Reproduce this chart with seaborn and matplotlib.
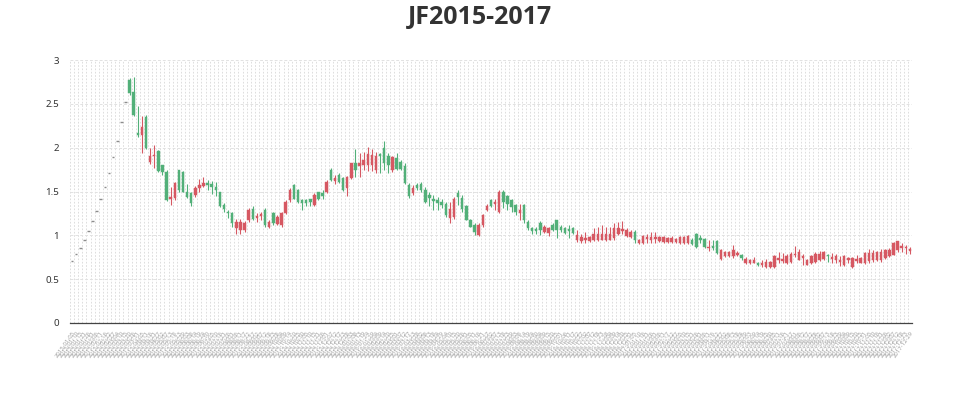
import numpy as np
import pandas as pd
import matplotlib
matplotlib.use("Agg")
import matplotlib.pyplot as plt
import seaborn as sns

# candle values (index 0-13 are flat limit-up days)
opens = [
    0.71, 0.79, 0.86, 0.95, 1.05, 1.16, 1.28, 1.41, 1.55, 1.71, 1.89, 2.08, 2.29, 2.52,
    2.77, 2.63, 2.17, 2.14, 2.35, 1.84, 1.90, 1.96, 1.80, 1.72,
    1.42, 1.43, 1.74, 1.72, 1.49, 1.48, 1.46, 1.54, 1.56, 1.60,
    1.58, 1.55, 1.49, 1.35, 1.27, 1.25,
    1.08, 1.06, 1.06, 1.17, 1.30, 1.20, 1.22, 1.29, 1.09, 1.26,
    1.13, 1.12, 1.25, 1.40, 1.57, 1.52, 1.40, 1.40, 1.41, 1.35,
    1.49, 1.48, 1.49, 1.75, 1.62, 1.69, 1.65, 1.54, 1.65, 1.83,
    1.79, 1.80, 1.80, 1.80, 1.75, 1.93, 2.00, 1.90, 1.74, 1.88,
    1.84, 1.79, 1.57, 1.48, 1.57, 1.59, 1.52, 1.46, 1.42, 1.40,
    1.38, 1.36, 1.20, 1.21, 1.48, 1.43, 1.33, 1.17, 1.12, 1.00,
    1.12, 1.29, 1.40, 1.36, 1.27, 1.50, 1.45, 1.40, 1.35, 1.26,
    1.35, 1.15, 1.08, 1.07, 1.14, 1.04, 1.03, 1.12, 1.17, 1.10,
    1.08, 1.07, 1.08, 0.95, 0.93, 0.95, 0.94, 0.95, 0.95, 0.95,
    0.95, 0.95, 0.97, 1.02, 1.05, 0.99, 0.98, 1.04, 0.91, 0.91,
    0.96, 0.95, 0.96, 0.93, 0.92, 0.92, 0.92, 0.92, 0.91, 0.91,
    0.91, 0.95, 1.02, 0.97, 0.96, 0.85, 0.88, 0.93, 0.73, 0.76,
    0.76, 0.76, 0.78, 0.78, 0.68, 0.68, 0.69, 0.69, 0.66, 0.64,
    0.64, 0.64, 0.72, 0.71, 0.68, 0.70, 0.77, 0.72, 0.74, 0.66,
    0.68, 0.70, 0.72, 0.73, 0.78, 0.73, 0.72, 0.70, 0.66, 0.72,
    0.64, 0.71, 0.69, 0.68, 0.71, 0.72, 0.72, 0.72, 0.74, 0.76,
    0.78, 0.83, 0.86, 0.85, 0.82,
]
closes = [
    0.71, 0.79, 0.86, 0.95, 1.05, 1.16, 1.28, 1.41, 1.55, 1.71, 1.89, 2.08, 2.29, 2.52,
    2.62, 2.37, 2.15, 2.24, 2.00, 1.91, 1.92, 1.73, 1.72, 1.40,
    1.44, 1.60, 1.52, 1.50, 1.44, 1.37, 1.54, 1.57, 1.60, 1.57,
    1.55, 1.52, 1.33, 1.30, 1.25, 1.14,
    1.15, 1.15, 1.14, 1.29, 1.19, 1.22, 1.24, 1.12, 1.15, 1.14,
    1.21, 1.25, 1.38, 1.52, 1.42, 1.38, 1.37, 1.37, 1.38, 1.46,
    1.41, 1.45, 1.61, 1.63, 1.65, 1.61, 1.52, 1.67, 1.82, 1.75,
    1.82, 1.86, 1.93, 1.92, 1.90, 1.90, 1.82, 1.80, 1.89, 1.76,
    1.76, 1.60, 1.45, 1.54, 1.54, 1.52, 1.38, 1.43, 1.39, 1.37,
    1.35, 1.23, 1.30, 1.42, 1.44, 1.30, 1.18, 1.10, 1.04, 1.12,
    1.23, 1.34, 1.33, 1.38, 1.50, 1.38, 1.36, 1.32, 1.27, 1.29,
    1.18, 1.08, 1.05, 1.05, 1.06, 1.10, 1.08, 1.06, 1.06, 1.06,
    1.03, 1.05, 1.03, 1.00, 0.98, 0.97, 0.98, 1.01, 1.01, 1.01,
    1.01, 1.02, 1.08, 1.08, 1.07, 1.06, 1.04, 0.95, 0.95, 0.99,
    0.98, 0.98, 0.98, 0.98, 0.98, 0.97, 0.97, 0.96, 0.98, 0.98,
    0.99, 0.90, 0.87, 0.95, 0.87, 0.87, 0.86, 0.80, 0.83, 0.81,
    0.81, 0.83, 0.80, 0.74, 0.73, 0.72, 0.72, 0.66, 0.68, 0.70,
    0.70, 0.76, 0.74, 0.73, 0.76, 0.79, 0.79, 0.81, 0.76, 0.72,
    0.76, 0.79, 0.79, 0.81, 0.76, 0.75, 0.76, 0.72, 0.76, 0.74,
    0.74, 0.73, 0.74, 0.80, 0.80, 0.80, 0.81, 0.81, 0.83, 0.83,
    0.91, 0.93, 0.88, 0.87, 0.84,
]
highs = [
    0.71, 0.79, 0.86, 0.95, 1.05, 1.16, 1.28, 1.41, 1.55, 1.71, 1.89, 2.08, 2.29, 2.52,
    2.80, 2.81, 2.47, 2.36, 2.37, 2.00, 2.03, 1.97, 1.80, 1.74,
    1.55, 1.61, 1.75, 1.73, 1.58, 1.50, 1.56, 1.64, 1.66, 1.63,
    1.62, 1.61, 1.50, 1.37, 1.29, 1.27,
    1.19, 1.19, 1.16, 1.31, 1.33, 1.25, 1.27, 1.31, 1.17, 1.27,
    1.23, 1.27, 1.40, 1.54, 1.59, 1.53, 1.42, 1.42, 1.42, 1.48,
    1.50, 1.52, 1.63, 1.77, 1.69, 1.71, 1.66, 1.68, 1.83, 1.99,
    1.94, 1.95, 2.01, 1.99, 1.95, 1.94, 2.08, 1.94, 1.90, 1.94,
    1.86, 1.82, 1.60, 1.57, 1.60, 1.61, 1.55, 1.50, 1.46, 1.44,
    1.42, 1.38, 1.38, 1.44, 1.52, 1.46, 1.35, 1.19, 1.14, 1.14,
    1.24, 1.36, 1.42, 1.42, 1.52, 1.52, 1.46, 1.42, 1.36, 1.36,
    1.36, 1.17, 1.10, 1.09, 1.16, 1.12, 1.10, 1.14, 1.18, 1.12,
    1.10, 1.12, 1.10, 1.06, 1.01, 1.04, 0.99, 1.08, 1.09, 1.12,
    1.10, 1.10, 1.14, 1.15, 1.16, 1.08, 1.06, 1.06, 0.96, 1.00,
    1.02, 1.04, 1.04, 0.99, 0.99, 0.98, 0.99, 0.97, 0.99, 0.99,
    1.00, 0.97, 1.03, 1.00, 0.97, 0.95, 0.95, 0.95, 0.84, 0.82,
    0.82, 0.89, 0.82, 0.79, 0.75, 0.73, 0.75, 0.70, 0.72, 0.73,
    0.71, 0.78, 0.81, 0.80, 0.79, 0.81, 0.88, 0.84, 0.79, 0.73,
    0.77, 0.81, 0.82, 0.82, 0.79, 0.80, 0.79, 0.76, 0.77, 0.75,
    0.75, 0.77, 0.75, 0.81, 0.84, 0.83, 0.82, 0.84, 0.84, 0.86,
    0.92, 0.94, 0.91, 0.89, 0.87,
]
lows = [
    0.71, 0.79, 0.86, 0.95, 1.05, 1.16, 1.28, 1.41, 1.55, 1.71, 1.89, 2.08, 2.29, 2.52,
    2.60, 2.36, 2.12, 1.94, 1.99, 1.81, 1.77, 1.72, 1.69, 1.39,
    1.35, 1.40, 1.50, 1.49, 1.43, 1.33, 1.44, 1.50, 1.55, 1.52,
    1.47, 1.45, 1.32, 1.27, 1.20, 1.10,
    1.02, 1.02, 1.04, 1.15, 1.17, 1.15, 1.17, 1.10, 1.08, 1.12,
    1.12, 1.10, 1.24, 1.38, 1.41, 1.37, 1.29, 1.33, 1.33, 1.34,
    1.40, 1.42, 1.48, 1.62, 1.59, 1.60, 1.51, 1.45, 1.64, 1.67,
    1.67, 1.745, 1.73, 1.73, 1.71, 1.71, 1.745, 1.71, 1.72, 1.74,
    1.74, 1.58, 1.43, 1.46, 1.52, 1.50, 1.37, 1.33, 1.29, 1.29,
    1.31, 1.21, 1.14, 1.19, 1.35, 1.27, 1.17, 1.09, 1.00, 0.99,
    1.10, 1.28, 1.32, 1.29, 1.26, 1.31, 1.29, 1.27, 1.23, 1.17,
    1.14, 1.06, 1.02, 1.02, 1.00, 1.03, 0.99, 1.05, 0.97, 1.04,
    1.01, 0.97, 1.01, 0.92, 0.91, 0.91, 0.92, 0.93, 0.94, 0.95,
    0.94, 0.95, 0.95, 1.00, 1.02, 0.98, 0.97, 0.91, 0.90, 0.90,
    0.91, 0.91, 0.91, 0.92, 0.91, 0.91, 0.91, 0.91, 0.90, 0.90,
    0.90, 0.89, 0.86, 0.91, 0.86, 0.82, 0.83, 0.79, 0.72, 0.75,
    0.75, 0.74, 0.76, 0.72, 0.67, 0.67, 0.68, 0.65, 0.64, 0.63,
    0.63, 0.63, 0.69, 0.69, 0.67, 0.69, 0.75, 0.72, 0.66, 0.66,
    0.67, 0.69, 0.71, 0.72, 0.70, 0.69, 0.68, 0.65, 0.65, 0.69,
    0.63, 0.69, 0.68, 0.67, 0.69, 0.70, 0.71, 0.70, 0.73, 0.75,
    0.77, 0.81, 0.81, 0.79, 0.79,
]
n = len(opens)
assert len(closes) == n and len(highs) == n and len(lows) == n

# date labels on the category axis (too small to read in the reference)
dates = pd.date_range("2015-01-05", "2017-12-29", periods=n).strftime("%Y-%m-%d").tolist()
y_ticks = [0, 0.5, 1, 1.5, 2, 2.5, 3]
y_labels = ["0", "0.5", "1", "1.5", "2", "2.5", "3"]

up_color = "#d65862"
down_color = "#52b079"
flat_color = "#8c8c8c"

df = pd.DataFrame({"date": dates, "open": opens, "close": closes, "high": highs, "low": lows})
df["x"] = np.arange(n)
df["bottom"] = df[["open", "close"]].min(axis=1)
df["height"] = (df["close"] - df["open"]).abs()
df["color"] = np.where(df["close"] > df["open"], up_color,
                       np.where(df["close"] < df["open"], down_color, flat_color))

sns.set_theme(style="white")
plt.rcParams["font.family"] = ["Noto Sans", "DejaVu Sans"]

fig = plt.figure(figsize=(9.6, 4), dpi=100)
ax = fig.add_axes([70 / 960, 1 - 323 / 400, 842 / 960, 263 / 400])

moving = df[df["height"] > 0]
flat = df[df["height"] == 0]

# wicks, bodies, flat days
ax.vlines(moving["x"], moving["low"], moving["high"], colors=moving["color"], lw=0.8, zorder=3)
ax.bar(moving["x"], moving["height"], bottom=moving["bottom"], width=0.6,
       color=moving["color"], edgecolor=moving["color"], linewidth=0.3, zorder=4)
ax.hlines(flat["close"], flat["x"] - 0.32, flat["x"] + 0.32, colors=flat_color, lw=1.0, zorder=4)

ax.set_xlim(-0.5, n - 0.5)
ax.set_ylim(0, 3)
ax.set_yticks(y_ticks)
ax.set_yticklabels(y_labels, fontsize=7, color="#333333")
ax.set_xticks(df["x"])
ax.set_xticklabels(df["date"], fontsize=4.3, color="#a0a0a0", rotation=55,
                   ha="right", rotation_mode="anchor")
ax.set_xticks(np.arange(-0.5, n, 1), minor=True)
ax.tick_params(axis="x", which="major", length=0, pad=5)
ax.tick_params(axis="x", which="minor", length=4, width=0.5, color="#555555")
ax.tick_params(axis="y", length=0, pad=8)

ax.grid(False)
ax.grid(which="minor", axis="x", color="#d8d8d8", lw=0.6, linestyle=(0, (2, 2)), zorder=0)
ax.grid(which="major", axis="y", color="#e2e2e2", lw=0.7, linestyle=(0, (3, 2)), zorder=0)

for side in ["top", "right", "left"]:
    ax.spines[side].set_visible(False)
ax.spines["bottom"].set_color("#444444")
ax.spines["bottom"].set_linewidth(0.9)

fig.text(0.5, 1 - 17 / 400, "JF2015-2017", ha="center", va="center",
         fontsize=18, fontweight="bold", color="#333333",
         family=["Open Sans", "Roboto", "DejaVu Sans"])

fig.savefig("out.png", dpi=100)
